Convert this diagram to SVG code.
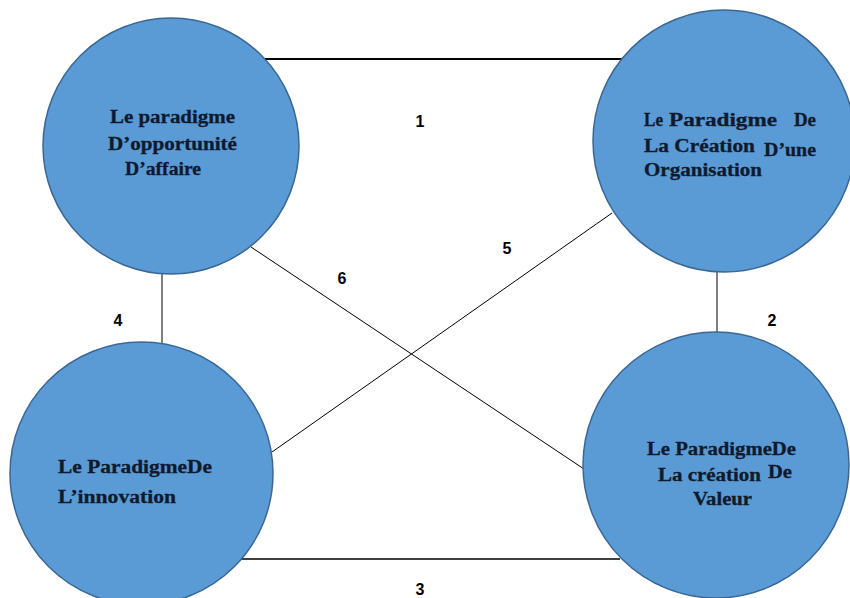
<svg xmlns="http://www.w3.org/2000/svg" width="850" height="598" viewBox="0 0 850 598">
<style>
.node{fill:#5b9bd5;stroke:#3a6794;stroke-width:1.5}
.lbl{font-family:"Liberation Serif","Times New Roman",serif;font-weight:bold;font-size:18px;fill:#0f1a2e;stroke:#0f1a2e;stroke-width:0.3}
.num{font-family:"Liberation Sans",Arial,sans-serif;font-weight:bold;font-size:16px;fill:#000;text-anchor:middle}
.edge{stroke:#000;fill:none}
</style>
<rect width="850" height="598" fill="#fff"/>
<g id="connectors">
  <line class="edge" x1="265" y1="59" x2="623" y2="59" stroke-width="2"/>
  <line class="edge" x1="717" y1="272" x2="717" y2="333" stroke-width="1"/>
  <line class="edge" x1="240" y1="559" x2="620" y2="559" stroke-width="1.3"/>
  <line class="edge" x1="162" y1="273" x2="162" y2="343" stroke-width="1"/>
  <line class="edge" x1="251" y1="247" x2="584" y2="469" stroke-width="1"/>
  <line class="edge" x1="612" y1="213" x2="272" y2="452" stroke-width="1"/>
  <text class="num" x="420" y="127">1</text>
  <text class="num" x="772" y="326">2</text>
  <text class="num" x="420" y="595">3</text>
  <text class="num" x="118" y="326">4</text>
  <text class="num" x="507" y="254">5</text>
  <text class="num" x="342" y="284">6</text>
</g>
<g id="node-opportunite">
  <circle class="node" cx="171" cy="146" r="128"/>
  <text class="lbl" x="110" y="123" textLength="125" lengthAdjust="spacingAndGlyphs">Le paradigme</text>
  <text class="lbl" x="108" y="150" textLength="129" lengthAdjust="spacingAndGlyphs">D’opportunité</text>
  <text class="lbl" x="125" y="175" textLength="76" lengthAdjust="spacingAndGlyphs">D’affaire</text>
</g>
<g id="node-organisation">
  <circle class="node" cx="724" cy="141" r="131"/>
  <text class="lbl" x="644" y="126" textLength="19" lengthAdjust="spacingAndGlyphs">Le</text>
  <text class="lbl" x="669" y="126" textLength="108" lengthAdjust="spacingAndGlyphs">Paradigme</text>
  <text class="lbl" x="794" y="126" textLength="22" lengthAdjust="spacingAndGlyphs">De</text>
  <text class="lbl" x="644" y="152" textLength="111" lengthAdjust="spacingAndGlyphs">La Création</text>
  <text class="lbl" x="764" y="156" textLength="52" lengthAdjust="spacingAndGlyphs">D’une</text>
  <text class="lbl" x="644" y="176" textLength="118" lengthAdjust="spacingAndGlyphs">Organisation</text>
</g>
<g id="node-innovation">
  <circle class="node" cx="141.5" cy="473.5" r="131.5"/>
  <text class="lbl" x="58" y="473" textLength="154" lengthAdjust="spacingAndGlyphs">Le ParadigmeDe</text>
  <text class="lbl" x="58" y="503" textLength="118" lengthAdjust="spacingAndGlyphs">L’innovation</text>
</g>
<g id="node-valeur">
  <circle class="node" cx="716" cy="465" r="133"/>
  <text class="lbl" x="647" y="455" textLength="149" lengthAdjust="spacingAndGlyphs">Le ParadigmeDe</text>
  <text class="lbl" x="658" y="481" textLength="103" lengthAdjust="spacingAndGlyphs">La création</text>
  <text class="lbl" x="768" y="478" textLength="24" lengthAdjust="spacingAndGlyphs">De</text>
  <text class="lbl" x="693" y="505" textLength="59" lengthAdjust="spacingAndGlyphs">Valeur</text>
</g>
</svg>
